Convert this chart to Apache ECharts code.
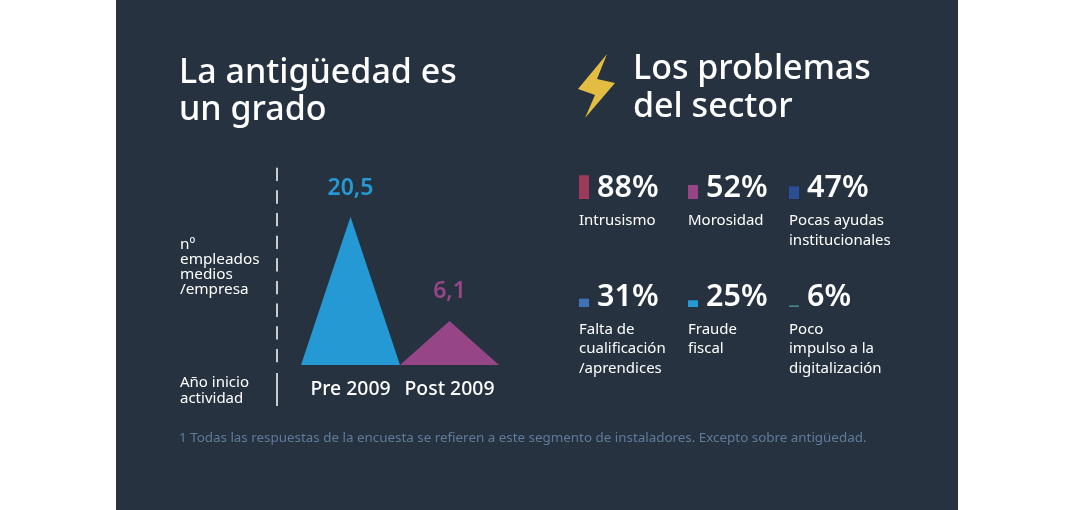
<!DOCTYPE html>
<html>
<head>
<meta charset="utf-8">
<style>
  html, body { margin: 0; padding: 0; background: #fff; }
  #chart { width: 1082px; height: 510px; }
</style>
<script src="https://cdn.jsdelivr.net/npm/echarts@6/dist/echarts.min.js"></script>
</head>
<body>
<div id="chart"></div>
<script>
// datos
const periods = ['Pre 2009', 'Post 2009'];
const employees = [20.5, 6.1];
const periodColors = ['#2499D3', '#964687'];

const problems = ['Intrusismo', 'Morosidad', 'Pocas ayudas\ninstitucionales', 'Falta de\ncualificación\n/aprendices', 'Fraude\nfiscal', 'Poco\nimpulso a la\ndigitalización'];
const shares = [88, 52, 47, 31, 25, 6];
const problemColors = ['#9E3A59', '#964687', '#2A4F96', '#3D72B4', '#2499D3', '#3C8C8C'];

// layout of the six small bars
const colX = [579, 688, 789];
const rowBase = [199, 307];
const rowLabelGap = [12, 12.5];
const rowValueGap = [28.5, 27.5];
const FONT = '"Noto Sans", sans-serif';
const pxPerPoint = 0.27;

const chart = echarts.init(document.getElementById('chart'));

function txt(text, x, y, size, fill, weight, lineHeight) {
  return {
    type: 'text', x: x, y: y, silent: true,
    style: {
      text: text, fill: fill, fontFamily: FONT, fontSize: size,
      fontWeight: weight || 400, lineHeight: lineHeight || size * 1.2,
      align: 'left', verticalAlign: 'top'
    }
  };
}

const grids = [{ left: 301, top: 167, width: 198, height: 198 }];
const xAxes = [{
  type: 'category', gridIndex: 0, data: periods,
  axisLine: { show: false }, axisTick: { show: false },
  axisLabel: { color: '#fff', fontFamily: FONT, fontSize: 19.4, fontWeight: 500, margin: 15, interval: 0 }
}];
const yAxes = [{
  type: 'value', gridIndex: 0, min: 0, max: 27.4, offset: 24,
  axisLine: { show: true, onZero: false, lineStyle: { color: '#fff', width: 1.5, type: [12.3, 10.35], dashOffset: 19.35 } },
  axisTick: { show: false }, axisLabel: { show: false }, splitLine: { show: false }
}];
const series = [{
  type: 'pictorialBar', xAxisIndex: 0, yAxisIndex: 0,
  symbol: 'triangle', symbolSize: ['100%', '100%'], barWidth: '100%', barCategoryGap: 0,
  data: employees.map((v, i) => ({
    value: v,
    itemStyle: { color: periodColors[i] },
    label: { color: periodColors[i], distance: i ? 18 : 17 }
  })),
  label: {
    show: true, position: 'top', fontFamily: FONT, fontSize: 23, fontWeight: 600,
    formatter: p => String(p.value).replace('.', ',')
  }
}];

// one tiny grid per problem, all on the same 0-100 scale
shares.forEach((v, i) => {
  const col = i % 3, row = Math.floor(i / 3), n = i + 1;
  grids.push({ left: colX[col], top: rowBase[row] - 100 * pxPerPoint, width: 10, height: 100 * pxPerPoint });
  xAxes.push({ type: 'category', gridIndex: n, data: [problems[i]], show: false });
  yAxes.push({ type: 'value', gridIndex: n, min: 0, max: 100, show: false });
  series.push({
    type: 'bar', xAxisIndex: n, yAxisIndex: n, barWidth: '100%',
    data: [v], itemStyle: { color: problemColors[i] }, silent: true
  });
});

const statTexts = [];
shares.forEach((v, i) => {
  const col = i % 3, row = Math.floor(i / 3);
  statTexts.push(txt(v + '%', colX[col] + 18, rowBase[row] - rowValueGap[row], 30.5, '#fff', 600));
  statTexts.push(txt(problems[i], colX[col], rowBase[row] + rowLabelGap[row], 15, '#fff', 400, 19.7));
});

chart.setOption({
  animation: false,
  grid: grids, xAxis: xAxes, yAxis: yAxes, series: series,
  graphic: [
    { type: 'rect', z: -10, silent: true, shape: { x: 116, y: 0, width: 842, height: 510 }, style: { fill: '#263240' } },
    { type: 'polygon', silent: true, shape: { points: [[607, 54], [578, 89], [595, 95], [585, 118], [615, 83], [597, 79]] }, style: { fill: '#E3BC42' } },
    { type: 'line', silent: true, shape: { x1: 277, y1: 373, x2: 277, y2: 406 }, style: { stroke: '#fff', lineWidth: 1.5 } },
    txt('La antigüedad es\nun grado', 179, 55, 34, '#fff', 500, 37),
    txt('Los problemas\ndel sector', 633, 51, 34, '#fff', 500, 37.5),
    txt('nº\nempleados\nmedios\n/empresa', 180, 236.5, 15.3, '#fff', 400, 15.3),
    txt('Año inicio\nactividad', 180, 375.5, 15, '#fff', 400, 15.3),
    txt('1 Todas las respuestas de la encuesta se refieren a este segmento de instaladores. Excepto sobre antigüedad.', 179, 430, 13.4, '#5F7C9C', 400, 16)
  ].concat(statTexts)
});
</script>
</body>
</html>
